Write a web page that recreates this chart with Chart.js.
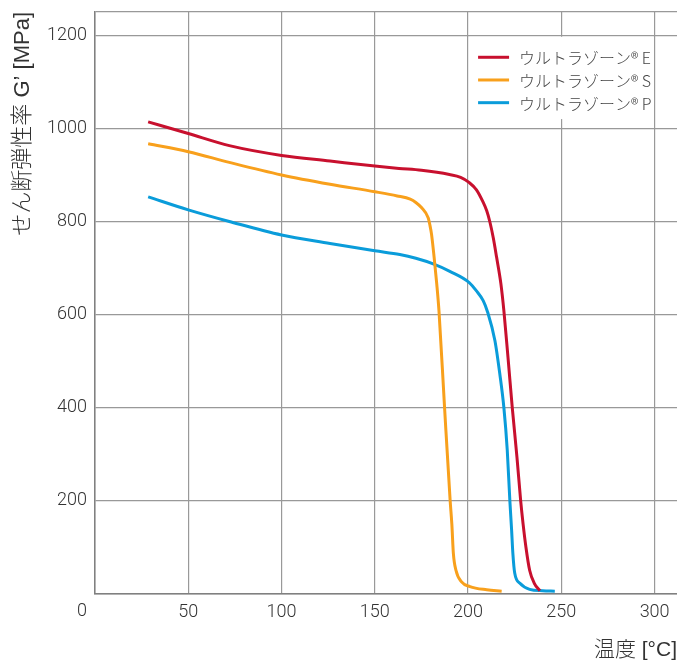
<!DOCTYPE html>
<html><head><meta charset="utf-8">
<script src="https://cdn.jsdelivr.net/npm/chart.js@4.4.1/dist/chart.umd.min.js"></script>
<style>html,body{margin:0;padding:0;background:#fff}#wrap{width:677px;height:663px;position:relative}</style>
</head><body><div id="wrap"><canvas id="c" width="677" height="663"></canvas></div>
<script>
const seriesLabels = ['ウルトラゾーン® E', 'ウルトラゾーン® S', 'ウルトラゾーン® P'];
const seriesColors = ['#C8102E', '#F8A01C', '#0A9CDA'];

const tempE = [28.5, 50, 72, 100, 126, 150, 163, 175, 190, 196, 200.5, 204.5, 208, 210, 211.7, 213.5, 215.3, 217.6, 219.2, 221.4, 223.7, 226.2, 228.2, 229.5, 231, 233, 235.5, 238.5];
const modE  = [1014, 989, 963, 942, 930, 919, 914, 910, 901, 895, 884, 868, 842, 823, 799, 765, 723, 666, 608, 508, 400, 294, 200, 150, 101, 51, 23, 7];

const tempS = [28.5, 50, 72, 100, 126, 150, 162, 169, 172, 175, 178.6, 179.5, 180.4, 181.8, 183.2, 184.4, 187.4, 190.4, 191.3, 192.1, 193.5, 196.5, 201, 210, 218];
const modS  = [967, 950, 927, 900, 880, 864, 855, 848, 841, 830, 808, 793, 773, 723, 666, 608, 400, 200, 150, 88, 51, 26, 16, 9, 6];

const tempP = [28.5, 50, 72, 100, 126, 150, 163.4, 172, 181.3, 190.2, 200.6, 204.5, 208.1, 210.5, 214.4, 217, 219.2, 221, 222.4, 223.3, 224, 225, 227.8, 233, 240, 246.5];
const modP  = [853, 825, 800, 771, 753, 737, 729, 721, 709, 693, 669, 651, 630, 605, 544, 473, 400, 309, 200, 140, 88, 45, 23, 10, 7, 6];

const xTicks = [0, 50, 100, 150, 200, 250, 300];
const yTicks = [0, 200, 400, 600, 800, 1000, 1200, 1250];
const xMax = 312;
const yMax = 1250;
const xTitle = '温度 [°C]';
const yTitle = 'せん断弾性率 G’ [MPa]';
const originLabel = '0';

function pts(xs, ys) { return xs.map((v, i) => ({x: v, y: ys[i]})); }

const LATIN = 'Roboto, "Liberation Sans", sans-serif';
const TITLE = '"Liberation Sans", "Noto Sans CJK JP", sans-serif';
const CJK = '"Noto Sans CJK JP", sans-serif';
const TICK_FONT = {family: LATIN, size: 18, weight: '300'};

const extras = {
  id: 'extras',
  afterDraw(chart) {
    const {ctx, scales: {x, y}} = chart;
    ctx.save();
    ctx.font = '300 18px ' + LATIN;
    ctx.fillStyle = '#333';
    ctx.textAlign = 'right';
    ctx.textBaseline = 'top';
    ctx.fillText(originLabel, y.right - 8, x.top + 8);
    const bx0 = x.getPixelForValue(200) + 1.5, bx1 = x.getPixelForValue(300) - 1.5;
    const by0 = y.getPixelForValue(1200) + 1.5, by1 = y.getPixelForValue(1020);
    ctx.fillStyle = '#fff';
    ctx.fillRect(bx0, by0, bx1 - bx0, by1 - by0);
    chart.data.datasets.forEach((ds, i) => {
      const ly = by0 + 20.5 + i * 22.7;
      ctx.strokeStyle = ds.borderColor;
      ctx.lineWidth = 3;
      ctx.beginPath(); ctx.moveTo(bx0 + 8.5, ly); ctx.lineTo(bx0 + 39.5, ly); ctx.stroke();
      ctx.fillStyle = '#444';
      ctx.font = '300 16px ' + CJK;
      ctx.textAlign = 'left';
      ctx.textBaseline = 'middle';
      ctx.fillText(ds.label, bx0 + 49.5, ly + 1);
    });
    ctx.restore();
  }
};

function build() {
  new Chart(document.getElementById('c'), {
    type: 'line',
    data: {
      datasets: [
        {label: seriesLabels[0], data: pts(tempE, modE), borderColor: seriesColors[0]},
        {label: seriesLabels[1], data: pts(tempS, modS), borderColor: seriesColors[1]},
        {label: seriesLabels[2], data: pts(tempP, modP), borderColor: seriesColors[2]}
      ].map(d => Object.assign(d, {borderWidth: 3, pointRadius: 0, fill: false, cubicInterpolationMode: 'monotone', borderCapStyle: 'butt'}))
    },
    options: {
      responsive: false,
      animation: false,
      devicePixelRatio: 1,
      layout: {padding: {top: 12, right: 0, left: 0, bottom: 0}},
      plugins: {legend: {display: false}, tooltip: {enabled: false}},
      scales: {
        x: {
          type: 'linear', min: 0, max: xMax,
          afterBuildTicks: s => { s.ticks = xTicks.map(v => ({value: v})); },
          afterFit: s => { s.height = 69; s.paddingLeft = 0; s.paddingRight = 0; },
          ticks: {font: TICK_FONT, color: '#333', padding: 8, maxRotation: 0, callback: v => v === 0 ? '' : String(v)},
          grid: {color: '#999', lineWidth: 1.2, drawTicks: false},
          border: {color: '#808080', width: 1.5},
          title: {display: true, text: xTitle, align: 'end', color: '#333', font: {family: TITLE, size: 21, weight: '300'}, padding: {top: 0, bottom: 0}}
        },
        y: {
          type: 'linear', min: 0, max: yMax,
          afterBuildTicks: s => { s.ticks = yTicks.map(v => ({value: v})); },
          afterFit: s => { s.width = 95; s.paddingTop = 0; s.paddingBottom = 0; },
          ticks: {font: TICK_FONT, color: '#333', padding: 8, callback: v => (v === 0 || v === 1250) ? '' : String(v)},
          grid: {color: '#999', lineWidth: 1.2, drawTicks: false},
          border: {color: '#808080', width: 1.5},
          title: {display: true, text: yTitle, align: 'end', color: '#333', font: {family: TITLE, size: 22, weight: '300'}, padding: {top: 10, bottom: 0}}
        }
      }
    },
    plugins: [extras]
  });
}

Promise.all([
  document.fonts.load('300 18px Roboto'),
  document.fonts.load('20px "Liberation Sans"'),
  document.fonts.load('300 18px "Noto Sans CJK JP"', 'せん'),
  document.fonts.load('18px "Noto Sans CJK JP"', 'せん')
]).catch(() => {}).then(build);
</script>
</body></html>
